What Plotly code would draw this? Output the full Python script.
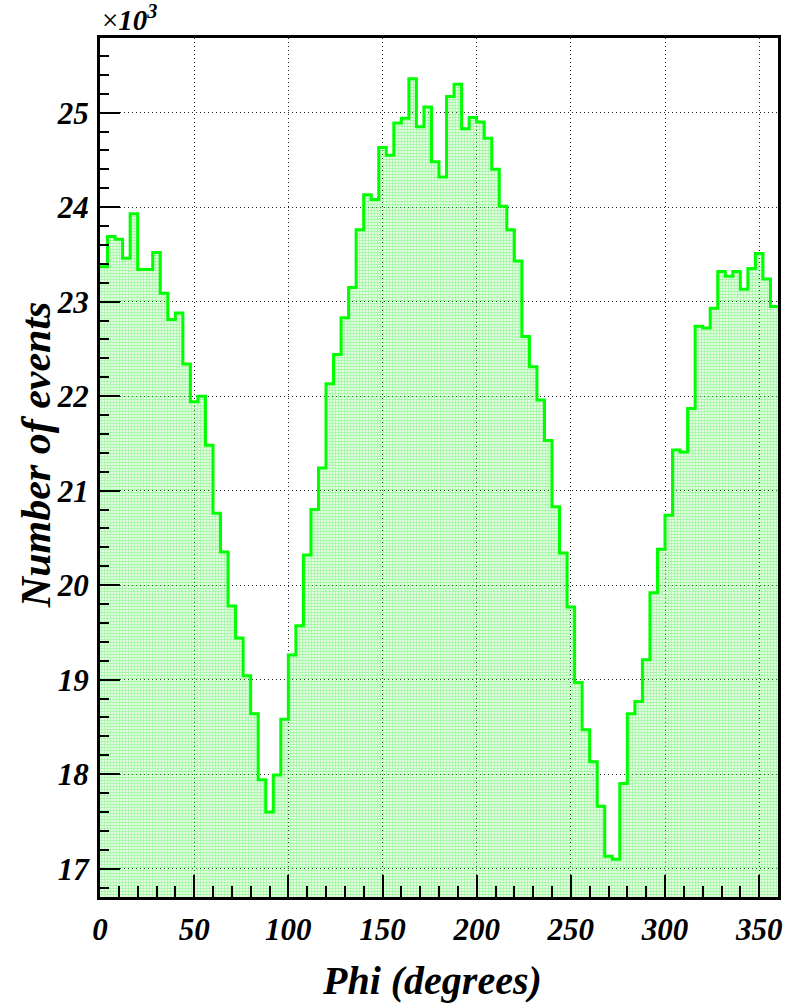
import numpy as np
import plotly.graph_objects as go

# Phi histogram, 4 degree bins from 0 to 360
bin_width = 4
phi_low = 0
counts = [
    23370, 23690, 23660, 23460, 23930, 23340, 23340, 23520, 23090, 22810,
    22880, 22340, 21940, 22000, 21480, 20760, 20350, 19780, 19440, 19040,
    18640, 17940, 17600, 17990, 18580, 19260, 19570, 20320, 20800, 21240,
    22130, 22440, 22830, 23150, 23760, 24130, 24080, 24630, 24550, 24890,
    24940, 25360, 24850, 25060, 24480, 24320, 25170, 25300, 24830, 24950,
    24900, 24730, 24400, 24010, 23760, 23430, 22630, 22310, 21960, 21530,
    20830, 20340, 19770, 18970, 18470, 18130, 17660, 17130, 17100, 17900,
    18640, 18770, 19210, 19920, 20380, 20740, 21430, 21410, 21870, 22740,
    22720, 22930, 23320, 23270, 23320, 23130, 23350, 23510, 23240, 22950,
]
x_ticks = [0, 50, 100, 150, 200, 250, 300, 350]
y_ticks = [17, 18, 19, 20, 21, 22, 23, 24, 25]

edges = phi_low + bin_width * np.arange(len(counts) + 1)
yk = np.array(counts) / 1000.0
ystep = np.append(yk, yk[-1])

font = "Liberation Serif"

fig = go.Figure()
fig.add_trace(go.Scatter(
    x=edges, y=ystep,
    mode="lines",
    line=dict(shape="hv", color="#00ff00", width=3),
    fill="tozeroy",
    fillcolor="rgba(0,0,0,0)",
    fillpattern=dict(shape=".", fgcolor="#33ee33", bgcolor="rgba(255,255,255,0)",
                     size=3, solidity=0.6),
    showlegend=False,
))

fig.update_xaxes(
    range=[0, 360],
    tickvals=x_ticks,
    ticks="inside", ticklen=22, tickwidth=2, tickcolor="black",
    minor=dict(ticks="inside", ticklen=11, tickwidth=2, tickcolor="black", dtick=10),
    showline=True, linewidth=3, linecolor="black", mirror=True,
    showgrid=True, gridcolor="#222222", gridwidth=1, griddash="1px,3px",
    zeroline=False,
    tickfont=dict(family=font, size=31, color="black", weight="bold", style="italic"),
    ticklabelstandoff=3,
)
fig.update_yaxes(
    range=[16.70, 25.79],
    tickvals=y_ticks,
    ticks="inside", ticklen=20, tickwidth=2, tickcolor="black",
    minor=dict(ticks="inside", ticklen=9, tickwidth=2, tickcolor="black", dtick=0.2),
    showline=True, linewidth=3, linecolor="black", mirror=True,
    showgrid=True, gridcolor="#222222", gridwidth=1, griddash="1px,3px",
    zeroline=False,
    tickfont=dict(family=font, size=31, color="black", weight="bold", style="italic"),
    ticklabelstandoff=2,
)

fig.update_layout(
    width=794, height=1005,
    margin=dict(l=100, r=13, t=38, b=108),
    paper_bgcolor="white", plot_bgcolor="white",
    annotations=[
        dict(text="<b><i>Phi (degrees)</i></b>", x=0.49, y=-0.097, xref="paper", yref="paper",
             xanchor="center", yanchor="middle", showarrow=False,
             font=dict(family=font, size=40, color="black")),
        dict(text="<b><i>Number of events</i></b>", x=-0.095, y=0.515, xref="paper", yref="paper",
             xanchor="center", yanchor="middle", showarrow=False, textangle=-90,
             font=dict(family=font, size=42, color="black")),
        dict(text="×<b><i>10</i></b><sup><b><i>3</i></b></sup>", x=0, y=1.0, xref="paper", yref="paper",
             xanchor="left", yanchor="bottom", showarrow=False,
             font=dict(family=font, size=29, color="black")),
    ],
)

fig.write_html("out.html", config={"displayModeBar": False},
               post_script="document.body.style.margin='0px';")
